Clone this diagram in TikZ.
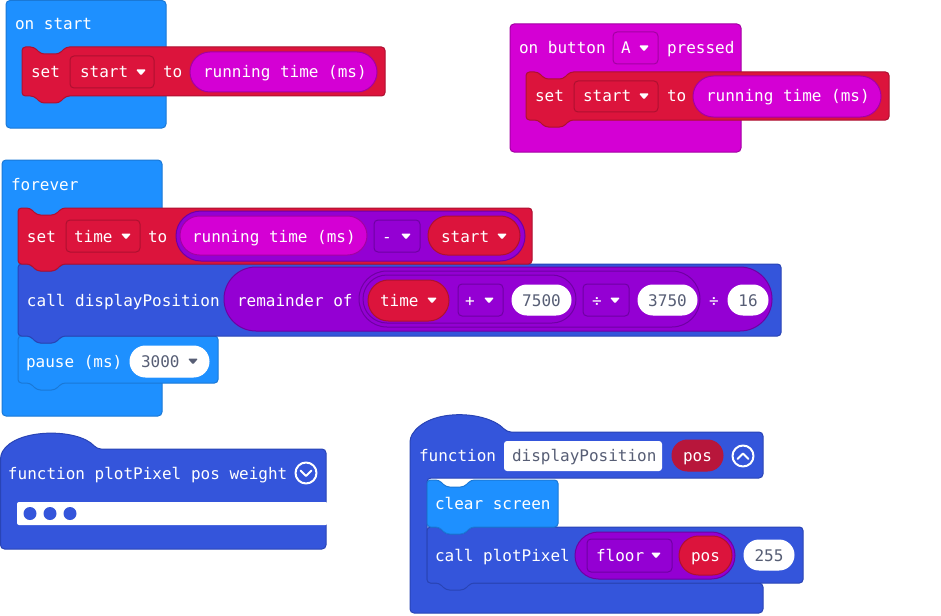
\documentclass[tikz,border=0pt]{standalone}
\usepackage{fontspec}
\newfontfamily\blockfont{DejaVu Sans Mono}
\definecolor{cBlue}{HTML}{1E90FF}
\definecolor{cBlueD}{HTML}{1A78D6}
\definecolor{cRed}{HTML}{DC143C}
\definecolor{cRedD}{HTML}{AE1030}
\definecolor{cMag}{HTML}{D400D4}
\definecolor{cMagD}{HTML}{A300A3}
\definecolor{cDBlue}{HTML}{3455DB}
\definecolor{cDBlueD}{HTML}{2944B5}
\definecolor{cPur}{HTML}{9400D3}
\definecolor{cPurD}{HTML}{6F00A3}
\definecolor{cPosRed}{HTML}{B8163B}
\definecolor{numgray}{HTML}{575E75}

% statement block with top notch and bottom tab: x1, y1, x2, y2, style
\newcommand\stmtblock[5]{%
  \draw[line width=1pt, rounded corners=3.5pt, #5]
    (#1,#2) -- ({#1+12},#2) -- ({#1+19},{#2+7}) -- ({#1+37},{#2+7}) -- ({#1+44},#2)
    -- (#3,#2) -- (#3,#4) -- ({#1+44},#4) -- ({#1+37},{#4+7}) -- ({#1+19},{#4+7})
    -- ({#1+12},#4) -- (#1,#4) -- cycle;}
% round-ended reporter: x1, y1, x2, y2, style
\newcommand\pill[5]{%
  \pgfmathsetmacro\pillr{(#4-#2)/2-0.05}%
  \draw[line width=1pt, rounded corners=\pillr pt, #5] (#1,#2) rectangle (#3,#4);}
% dropdown field box
\newcommand\dropbox[5]{%
  \draw[line width=1pt, rounded corners=4pt, #5] (#1,#2) rectangle (#3,#4);}
% dropdown arrow centred at x, y
\newcommand\ddarrow[3][white]{%
  \fill[#1, rounded corners=1pt] ({#2-5},{#3-2.5}) -- ({#2+5},{#3-2.5}) -- (#2,{#3+3.5}) -- cycle;}

\begin{document}
\begin{tikzpicture}[x=1pt,y=-1pt,
  txt/.style={anchor=base west, inner sep=0pt, outer sep=0pt, text=white,
    font=\blockfont\fontsize{16}{16}\selectfont},
  ctxt/.style={txt, anchor=base},
  num/.style={ctxt, text=numgray},
  blk/.style={line width=1pt, rounded corners=4pt},
  redblk/.style={fill=cRed, draw=cRedD},
  blueblk/.style={fill=cBlue, draw=cBlueD},
  magblk/.style={fill=cMag, draw=cMagD},
  dblueblk/.style={fill=cDBlue, draw=cDBlueD},
  purblk/.style={fill=cPur, draw=cPurD},
  whitepill/.style={fill=white, draw=white},
  icon/.style={draw=white, line width=2pt, line cap=round, line join=round}]

\useasboundingbox (0,0) rectangle (941,615);
\fill[white] (0,0) rectangle (941,615);

% ---------- on start ----------
\draw[blk, blueblk] (6,0.5) rectangle (166,128);
\node[txt] (onstart) at (15,30) {on start};
\stmtblock{22}{47}{385}{96}{redblk}
\node[txt] (setA) at (31,78) {set};
\dropbox{70}{56}{154}{88}{redblk}
\node[txt] (varA) at (80,78) {start};
\ddarrow{141}{72}
\node[txt] (toA) at (163,78) {to};
\pill{190}{52}{377}{92}{magblk}
\node[txt] (rtA) at (203,78) {running time (ms)};

% ---------- on button A pressed ----------
\draw[blk, magblk] (510,24) rectangle (741,152);
\node[txt] (onbtn) at (519,54) {on button};
\dropbox{613}{32}{658}{64}{magblk}
\node[txt] (btnA) at (621,54) {A};
\ddarrow{644}{48}
\node[txt] (pressed) at (667,54) {pressed};
\stmtblock{526}{72}{889}{120}{redblk}
\node[txt] (setB) at (535,102) {set};
\dropbox{574}{81}{658}{112}{redblk}
\node[txt] (varB) at (583,102) {start};
\ddarrow{644}{96}
\node[txt] (toB) at (667,102) {to};
\pill{693}{76}{881}{117}{magblk}
\node[txt] (rtB) at (706,102) {running time (ms)};

% ---------- forever ----------
\draw[blk, blueblk] (2,160) rectangle (162,416);
\node[txt] (forever) at (11,190) {forever};

% pause (ms)
\stmtblock{18}{336}{218}{383}{blueblk}
\node[txt] (pause) at (26,367) {pause (ms)};
\pill{130}{346}{209}{377}{whitepill}
\node[txt, text=numgray] (p3000) at (141,367) {3000};
\ddarrow[numgray]{193}{361}

% call displayPosition
\stmtblock{18}{264}{781}{336}{dblueblk}
\node[txt] (callDP) at (27,306) {call displayPosition};
\pill{224}{267}{772}{331}{purblk}
\node[txt] (remof) at (237,306) {remainder of};
\pill{359}{271}{700}{327}{purblk}
\pill{363}{275}{576}{323}{purblk}
\pill{368}{280}{449}{321}{redblk}
\node[txt] (timeB) at (380,306) {time};
\ddarrow{432}{300}
\dropbox{458}{284}{503}{316}{purblk}
\node[ctxt] (opplus) at (470,306) {+};
\ddarrow{489}{300}
\pill{512}{285}{571}{315}{whitepill}
\node[num] (n7500) at (541.5,306) {7500};
\dropbox{583}{284}{629}{316}{purblk}
\node[ctxt] (opdivA) at (597,306) {÷};
\ddarrow{615}{300}
\pill{638}{285}{697}{315}{whitepill}
\node[num] (n3750) at (667.5,306) {3750};
\node[ctxt] (opdivB) at (714,306) {÷};
\pill{728}{285}{768}{315}{whitepill}
\node[num] (n16) at (748,306) {16};

% set time to
\stmtblock{18}{208}{532}{264}{redblk}
\node[txt] (setC) at (27,242) {set};
\dropbox{66}{220}{140}{252}{redblk}
\node[txt] (varC) at (74,242) {time};
\ddarrow{126}{236}
\node[txt] (toC) at (148,242) {to};
\pill{176}{211}{525}{261}{purblk}
\pill{180}{216}{367}{255}{magblk}
\node[txt] (rtC) at (192,242) {running time (ms)};
\dropbox{374}{220}{420}{252}{purblk}
\node[ctxt] (opminus) at (387,242) {-};
\ddarrow{406}{236}
\pill{428}{216}{520}{255}{redblk}
\node[txt] (startC) at (441,242) {start};
\ddarrow{502}{236}

% ---------- function plotPixel ----------
\draw[blk, dblueblk] (0.5,549) -- (0.5,455) .. controls (16,428) and (78,428) .. (97,449)
  -- (326,449) -- (326,549) -- cycle;
\fill[white, rounded corners=2pt] (17,502) rectangle (327.5,525);
\foreach \dx in {30,50,70} \fill[cDBlue] (\dx,513.5) circle[radius=6.5pt];
\node[txt] (fnPP) at (8,479) {function plotPixel pos weight};
\draw[icon] (306,473) circle[radius=10.5pt];
\draw[icon] (300.5,470.5) -- (306,476) -- (311.5,470.5);

% ---------- function displayPosition ----------
\draw[blk, dblueblk] (410,613) -- (410,438) .. controls (428,408) and (486,410) .. (507,432)
  -- (763,432) -- (763,478) -- (427,478) -- (427,583) -- (763,583) -- (763,613) -- cycle;
\node[txt] (fnDP) at (419,461) {function};
\fill[white, rounded corners=3pt] (504,441) rectangle (662,471);
\node[txt, text=numgray] (dpName) at (512,461) {displayPosition};
\pill{672}{440}{723}{471}{fill=cPosRed, draw=cPosRed}
\node[ctxt] (posA) at (697.5,461) {pos};
\draw[icon] (743,456) circle[radius=10.5pt];
\draw[icon] (737.5,459) -- (743,453.5) -- (748.5,459);

% call plotPixel
\stmtblock{427}{527}{803}{583}{dblueblk}
\node[txt] (callPP) at (435,561) {call plotPixel};
\pill{575}{532}{735}{579}{purblk}
\dropbox{587}{539}{672}{572}{purblk}
\node[txt] (floor) at (596,561) {floor};
\ddarrow{656}{555}
\pill{679}{536}{732}{575}{redblk}
\node[ctxt] (posB) at (705.5,561) {pos};
\pill{744}{540}{794}{570}{whitepill}
\node[num] (n255) at (769,561) {255};

% clear screen
\stmtblock{427}{480}{558}{527}{blueblk}
\node[txt] (clr) at (435,509) {clear screen};

\end{tikzpicture}
\end{document}
